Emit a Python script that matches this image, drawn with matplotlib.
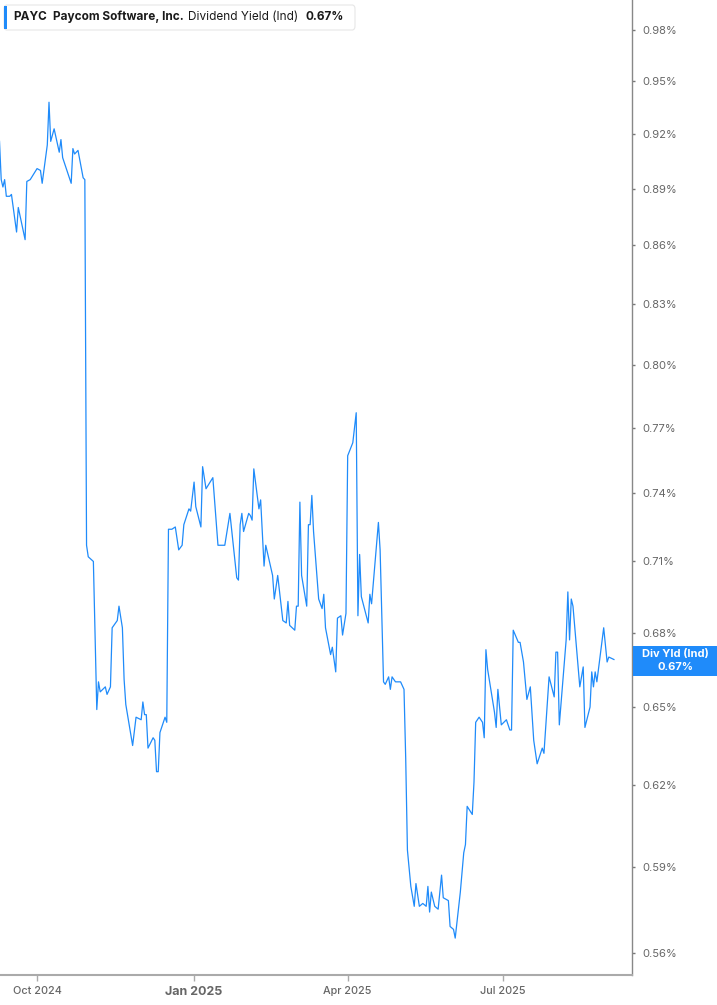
import numpy as np
import pandas as pd
import matplotlib
matplotlib.use("Agg")
import matplotlib.pyplot as plt
import matplotlib.dates as mdates
from matplotlib.patches import FancyBboxPatch, Rectangle
from matplotlib.ticker import FixedLocator, NullLocator

plt.rcParams['font.family'] = ['Inter', 'DejaVu Sans']

dates = [
    "2024-09-09", "2024-09-10", "2024-09-11", "2024-09-12", "2024-09-13", "2024-09-15",
    "2024-09-16", "2024-09-19", "2024-09-20", "2024-09-24", "2024-09-25", "2024-09-27",
    "2024-10-01", "2024-10-03", "2024-10-04", "2024-10-07", "2024-10-08", "2024-10-09",
    "2024-10-11", "2024-10-14", "2024-10-15", "2024-10-16", "2024-10-21", "2024-10-22",
    "2024-10-23", "2024-10-25", "2024-10-28", "2024-10-29", "2024-10-30", "2024-10-31",
    "2024-11-03", "2024-11-05", "2024-11-06", "2024-11-07", "2024-11-10", "2024-11-11",
    "2024-11-13", "2024-11-14", "2024-11-17", "2024-11-18", "2024-11-20", "2024-11-21",
    "2024-11-22", "2024-11-26", "2024-11-28", "2024-12-01", "2024-12-02", "2024-12-03",
    "2024-12-04", "2024-12-05", "2024-12-08", "2024-12-09", "2024-12-10", "2024-12-11",
    "2024-12-12", "2024-12-15", "2024-12-16", "2024-12-17", "2024-12-19", "2024-12-21",
    "2024-12-23", "2024-12-25", "2024-12-26", "2024-12-29", "2024-12-30", "2025-01-01",
    "2025-01-02", "2025-01-05", "2025-01-06", "2025-01-08", "2025-01-12", "2025-01-15",
    "2025-01-19", "2025-01-22", "2025-01-26", "2025-01-27", "2025-01-28", "2025-01-29",
    "2025-01-30", "2025-02-02", "2025-02-03", "2025-02-04", "2025-02-05", "2025-02-08",
    "2025-02-09", "2025-02-11", "2025-02-12", "2025-02-16", "2025-02-17", "2025-02-19",
    "2025-02-22", "2025-02-24", "2025-02-25", "2025-02-26", "2025-03-01", "2025-03-02",
    "2025-03-03", "2025-03-04", "2025-03-05", "2025-03-08", "2025-03-09", "2025-03-10",
    "2025-03-11", "2025-03-12", "2025-03-15", "2025-03-17", "2025-03-18", "2025-03-19",
    "2025-03-22", "2025-03-23", "2025-03-25", "2025-03-26", "2025-03-28", "2025-03-29",
    "2025-03-31", "2025-04-01", "2025-04-04", "2025-04-06", "2025-04-07", "2025-04-08",
    "2025-04-09", "2025-04-13", "2025-04-14", "2025-04-15", "2025-04-19", "2025-04-20",
    "2025-04-22", "2025-04-23", "2025-04-25", "2025-04-26", "2025-04-27", "2025-04-29",
    "2025-05-02", "2025-05-04", "2025-05-05", "2025-05-06", "2025-05-08", "2025-05-10",
    "2025-05-11", "2025-05-13", "2025-05-15", "2025-05-17", "2025-05-18", "2025-05-19",
    "2025-05-20", "2025-05-22", "2025-05-24", "2025-05-26", "2025-05-27", "2025-05-30",
    "2025-05-31", "2025-06-02", "2025-06-03", "2025-06-06", "2025-06-08", "2025-06-09",
    "2025-06-10", "2025-06-13", "2025-06-14", "2025-06-15", "2025-06-17", "2025-06-19",
    "2025-06-20", "2025-06-21", "2025-06-22", "2025-06-26", "2025-06-27", "2025-06-28",
    "2025-06-30", "2025-07-03", "2025-07-05", "2025-07-06", "2025-07-07", "2025-07-10",
    "2025-07-11", "2025-07-13", "2025-07-15", "2025-07-17", "2025-07-19", "2025-07-21",
    "2025-07-24", "2025-07-25", "2025-07-28", "2025-07-31", "2025-08-01", "2025-08-02",
    "2025-08-03", "2025-08-07", "2025-08-08", "2025-08-09", "2025-08-10", "2025-08-11",
    "2025-08-15", "2025-08-17", "2025-08-18", "2025-08-21", "2025-08-22", "2025-08-23",
    "2025-08-24", "2025-08-25", "2025-08-29", "2025-08-31", "2025-09-01", "2025-09-04",
]

div_yield = [
    0.916, 0.895, 0.891, 0.895, 0.886, 0.886,
    0.887, 0.867, 0.880, 0.863, 0.894, 0.895,
    0.901, 0.900, 0.893, 0.914, 0.938, 0.916,
    0.923, 0.910, 0.917, 0.907, 0.893, 0.912,
    0.909, 0.911, 0.896, 0.895, 0.717, 0.712,
    0.710, 0.649, 0.660, 0.656, 0.658, 0.655,
    0.658, 0.682, 0.685, 0.691, 0.682, 0.661,
    0.651, 0.635, 0.646, 0.645, 0.652, 0.647,
    0.647, 0.634, 0.638, 0.637, 0.625, 0.625,
    0.640, 0.646, 0.644, 0.724, 0.724, 0.725,
    0.715, 0.717, 0.726, 0.733, 0.732, 0.745,
    0.734, 0.725, 0.752, 0.742, 0.747, 0.717,
    0.717, 0.731, 0.703, 0.702, 0.726, 0.731,
    0.723, 0.731, 0.730, 0.728, 0.751, 0.733,
    0.737, 0.708, 0.717, 0.704, 0.694, 0.704,
    0.685, 0.684, 0.693, 0.683, 0.681, 0.691,
    0.691, 0.736, 0.704, 0.691, 0.726, 0.726,
    0.739, 0.723, 0.694, 0.690, 0.696, 0.682,
    0.671, 0.674, 0.664, 0.686, 0.687, 0.679,
    0.688, 0.757, 0.763, 0.777, 0.687, 0.713,
    0.695, 0.684, 0.696, 0.692, 0.727, 0.715,
    0.660, 0.659, 0.662, 0.657, 0.662, 0.660,
    0.660, 0.657, 0.630, 0.596, 0.583, 0.576,
    0.584, 0.576, 0.577, 0.576, 0.583, 0.574,
    0.581, 0.576, 0.575, 0.587, 0.579, 0.578,
    0.569, 0.568, 0.565, 0.581, 0.595, 0.598,
    0.612, 0.609, 0.621, 0.644, 0.646, 0.644,
    0.638, 0.673, 0.665, 0.648, 0.642, 0.657,
    0.643, 0.645, 0.641, 0.641, 0.681, 0.676,
    0.676, 0.668, 0.653, 0.658, 0.637, 0.628,
    0.634, 0.632, 0.662, 0.654, 0.672, 0.672,
    0.643, 0.677, 0.697, 0.677, 0.694, 0.691,
    0.658, 0.666, 0.642, 0.650, 0.664, 0.658,
    0.664, 0.660, 0.682, 0.668, 0.670, 0.669,
]

y_ticks = [0.56, 0.59, 0.62, 0.65, 0.68, 0.71, 0.74, 0.77, 0.80, 0.83, 0.86, 0.89, 0.92, 0.95, 0.98]
x_ticks = ["2024-10-01", "2025-01-01", "2025-04-01", "2025-07-01"]
x_labels = ["Oct 2024", "Jan 2025", "Apr 2025", "Jul 2025"]

W, H = 717, 1005
line_color = "#1f8bfa"

fig = plt.figure(figsize=(W / 100, H / 100), dpi=100)
ax = fig.add_axes([0, (H - 975) / H, 632 / W, 975 / H])

ax.plot(pd.to_datetime(dates), div_yield, color=line_color, linewidth=0.9)

ax.set_yscale("log")
ax.set_ylim(0.5525, 0.998)
ax.set_xlim(pd.Timestamp("2024-09-09 07:00"), pd.Timestamp("2025-09-14 14:00"))

ax.yaxis.tick_right()
ax.yaxis.set_major_locator(FixedLocator(y_ticks))
ax.yaxis.set_minor_locator(NullLocator())
ax.set_yticklabels([f"{v:.2f}%" for v in y_ticks])
ax.tick_params(axis="y", which="major", length=2.5, width=1, color="#777777",
               labelsize=8, labelcolor="#666666", pad=5)

ax.set_xticks(pd.to_datetime(x_ticks))
ax.set_xticklabels(x_labels)
ax.xaxis.set_minor_locator(NullLocator())
ax.tick_params(axis="x", length=4, width=1, color="#aaaaaa", labelsize=7.8,
               labelcolor="#666666", pad=4)
for lbl in ax.get_xticklabels():
    lbl.set_fontweight("medium")
    if lbl.get_text() == "Jan 2025":
        lbl.set_fontweight("bold")
        lbl.set_fontsize(9)

for s in ["left", "top"]:
    ax.spines[s].set_visible(False)
ax.spines["right"].set_color("#888888")
ax.spines["right"].set_linewidth(1)
ax.spines["bottom"].set_color("#aaaaaa")
ax.spines["bottom"].set_linewidth(1.5)


def fx(px):
    return px / W


def fy(py):
    return 1 - py / H


# legend box at top left
box = FancyBboxPatch((fx(4), fy(30)), fx(351), 25 / H, boxstyle="round,pad=0,rounding_size=0.004",
                     transform=fig.transFigure, facecolor="white", edgecolor="#e6e6e6",
                     linewidth=0.8, zorder=5)
fig.patches.append(box)
fig.patches.append(Rectangle((fx(4), fy(29)), fx(3), 23 / H, transform=fig.transFigure,
                             facecolor=line_color, edgecolor="none", zorder=6))
ty = fy(17)
fig.text(fx(13), ty, "PAYC", fontsize=8.5, fontweight="bold", color="#1a1a1a", va="center", zorder=7)
fig.text(fx(53), ty, "Paycom Software, Inc.", fontsize=8.5, fontweight="bold", color="#1a1a1a",
         va="center", zorder=7)
fig.text(fx(188), ty, "Dividend Yield (Ind)", fontsize=8.5, color="#1a1a1a", va="center", zorder=7)
fig.text(fx(305), ty, "0.67%", fontsize=8.5, fontweight="bold", color="#1a1a1a", va="center", zorder=7)

# last value label on the right axis
fig.patches.append(Rectangle((fx(633), fy(676)), fx(84), 30 / H, transform=fig.transFigure,
                             facecolor=line_color, edgecolor="none", zorder=5))
fig.text(fx(675), fy(654), "Div Yld (Ind)", fontsize=8, fontweight="bold", color="white",
         ha="center", va="center", zorder=6)
fig.text(fx(675), fy(667), f"{div_yield[-1]:.2f}%", fontsize=8, fontweight="bold", color="white",
         ha="center", va="center", zorder=6)

fig.savefig("out.png", dpi=100)
